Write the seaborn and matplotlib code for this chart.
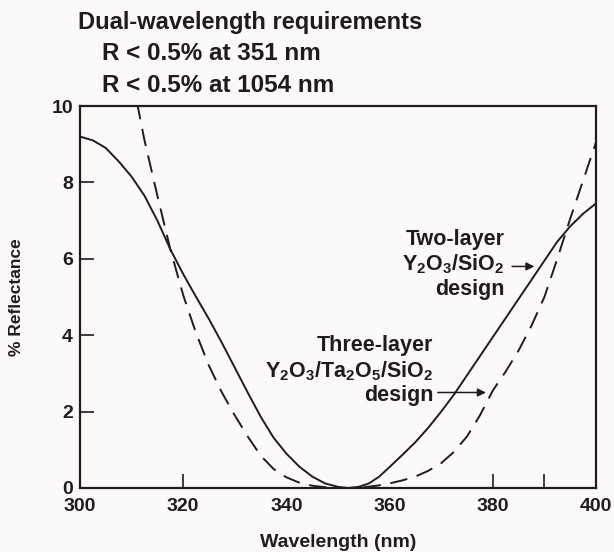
import numpy as np
import pandas as pd
import matplotlib
matplotlib.use("Agg")
import matplotlib.pyplot as plt
import seaborn as sns

# Two-layer Y2O3/SiO2 design (solid)
wl_two = [300, 302.5, 305, 307.5, 310, 312.5, 315, 317.5, 320, 322.5, 325,
          327.5, 330, 332.5, 335, 337.5, 340, 342.5, 345, 347.5, 350, 352,
          354, 356, 358, 360, 362.5, 365, 367.5, 370, 372.5, 375, 377.5,
          380, 382.5, 385, 387.5, 390, 392.5, 395, 397.5, 400]
refl_two = [9.2, 9.1, 8.9, 8.55, 8.15, 7.65, 7.0, 6.25, 5.6, 5.0, 4.42,
            3.8, 3.15, 2.5, 1.87, 1.32, 0.9, 0.56, 0.3, 0.12, 0.03, 0.0,
            0.03, 0.12, 0.3, 0.55, 0.87, 1.2, 1.58, 2.0, 2.45, 2.95, 3.45,
            3.95, 4.45, 4.95, 5.45, 5.95, 6.45, 6.85, 7.18, 7.45]

# Three-layer Y2O3/Ta2O5/SiO2 design (dashed)
wl_three = [310, 312.5, 315, 317.5, 320, 322.5, 325, 327.5, 330, 332.5, 335,
            337.5, 340, 342.5, 345, 347.5, 350, 352.5, 355, 357.5, 360,
            362.5, 365, 367.5, 370, 372.5, 375, 377.5, 380, 382.5, 385,
            387.5, 390, 392.5, 395, 397.5, 400]
refl_three = [10.8, 9.1, 7.65, 6.25, 5.05, 4.05, 3.2, 2.5, 1.9, 1.35, 0.85,
              0.5, 0.28, 0.14, 0.06, 0.02, 0.0, 0.0, 0.02, 0.06, 0.12,
              0.2, 0.3, 0.45, 0.65, 0.95, 1.35, 1.9, 2.55, 3.05, 3.6,
              4.25, 5.0, 6.0, 7.05, 8.05, 9.05]

x_ticks = [300, 320, 340, 360, 380, 400]
x_marks = [320, 380, 390]
y_ticks = [0, 2, 4, 6, 8, 10]
y_marks = [2, 4, 6, 8]

ink = "#231b1b"
bg = "#fcfaf8"

sns.set_style("ticks")
plt.rcParams["font.family"] = ["Liberation Sans", "DejaVu Sans"]
plt.rcParams["font.weight"] = "bold"
plt.rcParams["axes.labelweight"] = "bold"
plt.rcParams["mathtext.fontset"] = "custom"
plt.rcParams["mathtext.rm"] = "Liberation Sans:bold"
plt.rcParams["mathtext.it"] = "Liberation Sans:bold"
plt.rcParams["mathtext.bf"] = "Liberation Sans:bold"

fig = plt.figure(figsize=(6.14, 5.52), dpi=100, facecolor=bg)
ax = fig.add_axes([80 / 614, 1 - 488 / 552, 516 / 614, 382 / 552])
ax.set_facecolor(bg)

df_two = pd.DataFrame({"wl": wl_two, "R": refl_two})
df_three = pd.DataFrame({"wl": wl_three, "R": refl_three})
sns.lineplot(data=df_two, x="wl", y="R", ax=ax, color=ink, lw=1.4)
sns.lineplot(data=df_three, x="wl", y="R", ax=ax, color=ink, lw=1.4)
ax.lines[-1].set_dashes([9, 5])

ax.set_xlim(300, 400)
ax.set_ylim(0, 10)
ax.xaxis.remove_overlapping_locs = False
ax.yaxis.remove_overlapping_locs = False
ax.set_xticks(x_ticks)
ax.set_xticklabels([str(t) for t in x_ticks])
ax.set_xticks(x_marks, minor=True)
ax.set_yticks(y_ticks)
ax.set_yticklabels([str(t) for t in y_ticks])
ax.set_yticks(y_marks, minor=True)
ax.tick_params(which="major", length=0, labelsize=14, colors=ink)
ax.tick_params(axis="x", which="major", pad=7)
ax.tick_params(axis="y", which="major", pad=5)
ax.tick_params(which="minor", direction="in", length=10, width=1.2, color=ink)
ax.tick_params(axis="y", which="minor", left=True)
for s in ax.spines.values():
    s.set_visible(True)
    s.set_linewidth(1.6)
    s.set_color(ink)

ax.set_xlabel("Wavelength (nm)", fontsize=14, color=ink, labelpad=14)
ax.set_ylabel("% Reflectance", fontsize=12.5, color=ink, labelpad=20)

fig.text(78 / 614, 1 - 22 / 552, "Dual-wavelength requirements",
         fontsize=17, color=ink, va="center", ha="left")
fig.text(102 / 614, 1 - 54 / 552, "R < 0.5% at 351 nm",
         fontsize=17.5, color=ink, va="center", ha="left")
fig.text(102 / 614, 1 - 86 / 552, "R < 0.5% at 1054 nm",
         fontsize=17.5, color=ink, va="center", ha="left")

# labels for the curves
fs = 15.5
ax.text(382.3, 6.51, "Two-layer", fontsize=fs, color=ink, ha="right", va="center")
ax.text(382.3, 5.85, r"Y$_2$O$_3$/SiO$_2$", fontsize=fs, color=ink, ha="right", va="center")
ax.text(382.3, 5.2, "design", fontsize=fs, color=ink, ha="right", va="center")
ax.annotate("", xy=(388.6, 5.8), xytext=(383.2, 5.8),
            arrowprops=dict(arrowstyle="-|>", color=ink, lw=1.1, mutation_scale=12))

ax.text(368.5, 3.72, "Three-layer", fontsize=fs, color=ink, ha="right", va="center")
ax.text(368.5, 3.05, r"Y$_2$O$_3$/Ta$_2$O$_5$/SiO$_2$", fontsize=fs, color=ink, ha="right", va="center")
ax.text(368.5, 2.42, "design", fontsize=fs, color=ink, ha="right", va="center")
ax.annotate("", xy=(379.2, 2.5), xytext=(368.8, 2.5),
            arrowprops=dict(arrowstyle="-|>", color=ink, lw=1.1, mutation_scale=12))

fig.savefig("out.png", dpi=100, facecolor=bg)
